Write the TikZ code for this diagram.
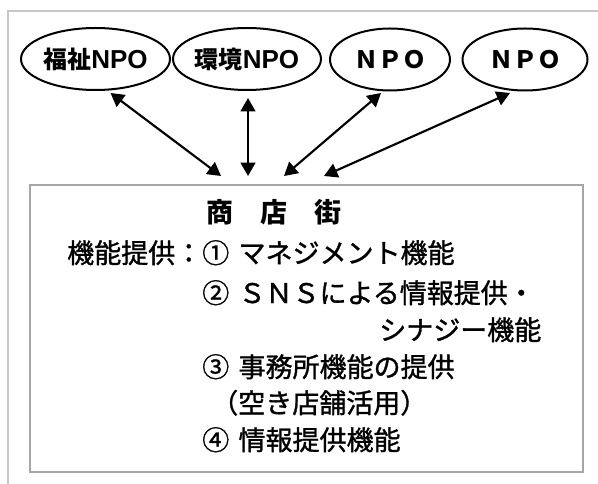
\documentclass[tikz,border=0pt]{standalone}
\usepackage{fontspec}
\setmainfont{Liberation Sans}
\newfontfamily\jp{Noto Sans CJK JP}
\newfontfamily\jpm[FakeBold=1.2]{Noto Sans CJK JP}
\usetikzlibrary{shapes.geometric,arrows.meta}
\begin{document}
\begin{tikzpicture}[x=0.75pt,y=-0.75pt,
  npo/.style={draw=black,line width=1.5pt,ellipse,inner sep=0pt,minimum height=46.5pt,font=\fontsize{19.5pt}{20pt}\selectfont\bfseries},
  link/.style={line width=1.6pt,{Triangle[length=10pt,width=11pt]}-{Triangle[length=10pt,width=11pt]}},
  txt/.style={anchor=base west,inner sep=0pt,font=\jpm\fontsize{20.25pt}{22pt}\selectfont},
  frame/.style={draw=black!22,line width=1.1pt}]
\useasboundingbox (0,0) rectangle (598,484);
% outer frame
\coordinate (f1) at (8,484);
\coordinate (f2) at (8,11);
\coordinate (f3) at (598,11);
\draw[frame] (f1) -- (f2) -- (f3);
% inner box
\node[draw=black!35,line width=0.9pt,inner sep=0pt,minimum width=414.75pt,minimum height=215.25pt] (box) at (306.5,328.5) {};
% ellipses
\node[npo,minimum width=111.75pt] (e1) at (95.5,59) {{\jp\fontsize{18pt}{20pt}\selectfont 福祉}NPO};
\node[npo,minimum width=111pt] (e2) at (247,59) {{\jp\fontsize{18pt}{20pt}\selectfont 環境}NPO};
\node[npo,minimum width=90pt] (e3) at (390,59.5) {\jp\fontsize{18pt}{20pt}\selectfont ＮＰＯ};
\node[npo,minimum width=93.75pt] (e4) at (525,59.5) {\jp\fontsize{18pt}{20pt}\selectfont ＮＰＯ};
% arrow ends
\coordinate (a1s) at (110.5,93);
\coordinate (a1e) at (221,176);
\coordinate (a2s) at (248,98);
\coordinate (a2e) at (248,176);
\coordinate (a3s) at (381,93);
\coordinate (a3e) at (284,176);
\coordinate (a4s) at (510,93);
\coordinate (a4e) at (324,176);
\draw[link] (a1s) -- (a1e);
\draw[link] (a2s) -- (a2e);
\draw[link] (a3s) -- (a3e);
\draw[link] (a4s) -- (a4e);
% texts
\node[txt,font=\jp\fontsize{20.25pt}{22pt}\selectfont\bfseries] (t0) at (206,223) {商　店　街};
\node[txt] (t1) at (67,263) {機能提供：①\hspace{7pt}マネジメント機能};
\node[txt] (t2) at (202,303) {②\hspace{7pt}ＳＮＳによる情報提供・};
\node[txt] (t3) at (379,340) {シナジー機能};
\node[txt] (t4) at (202,377) {③\hspace{7pt}事務所機能の提供};
\node[txt] (t5) at (211,413) {（空き店舗活用）};
\node[txt] (t6) at (202,450) {④\hspace{7pt}情報提供機能};
\end{tikzpicture}
\end{document}
